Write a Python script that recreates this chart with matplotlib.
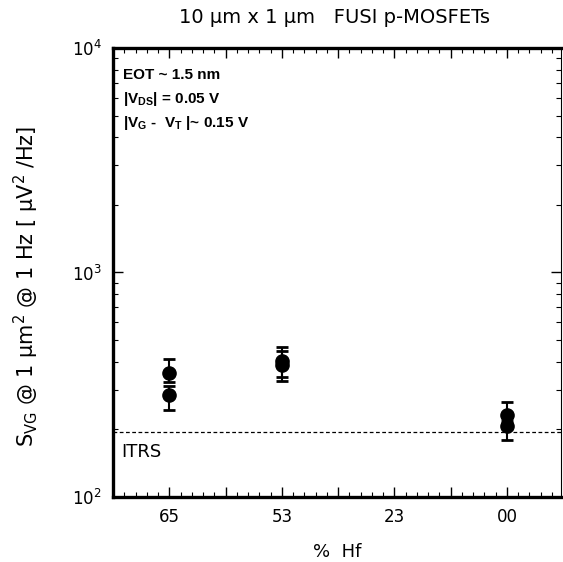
import matplotlib.pyplot as plt
from matplotlib.ticker import FixedLocator, FixedFormatter, MultipleLocator, LogLocator, NullFormatter

plt.rcParams["font.family"] = ["DejaVu Sans"]
plt.rcParams["mathtext.fontset"] = "custom"
plt.rcParams["mathtext.rm"] = "DejaVu Sans"
plt.rcParams["mathtext.bf"] = "Liberation Sans:bold"

# % Hf categories, positioned at 1..4 (unlabelled majors at half steps)
hf_labels = ["65", "53", "23", "00"]
hf_pos = [1, 2, 3, 4]

# measured S_VG points (uV^2/Hz) with asymmetric error bars
pt_x = [1, 1, 2, 2, 4, 4]
pt_y = [355, 286, 405, 389, 231, 208]
err_lo = [30, 41, 61, 59, 20, 29]
err_hi = [55, 25, 63, 60, 33, 10]

itrs_level = 195

fig = plt.figure(figsize=(5.63, 5.62), dpi=100)
ax = fig.add_axes([0.2007, 0.1157, 0.7957, 0.7989])

ax.errorbar(pt_x, pt_y, yerr=[err_lo, err_hi], fmt="o", color="black",
            markersize=9.5, ecolor="black", elinewidth=1.5, capsize=4, capthick=2)
ax.axhline(itrs_level, color="black", linestyle=(0, (3, 2)), linewidth=0.9)
ax.text(0.57, 150, "ITRS", fontsize=13)

ax.set_yscale("log")
ax.set_ylim(100, 10000)
ax.set_xlim(0.5, 4.48)

major_x = [0.5, 1, 1.5, 2, 2.5, 3, 3.5, 4]
major_lbl = ["", hf_labels[0], "", hf_labels[1], "", hf_labels[2], "", hf_labels[3]]
ax.xaxis.set_major_locator(FixedLocator(major_x))
ax.xaxis.set_major_formatter(FixedFormatter(major_lbl))
ax.xaxis.set_minor_locator(MultipleLocator(0.1))
ax.yaxis.set_minor_locator(LogLocator(base=10, subs=range(2, 10)))
ax.yaxis.set_minor_formatter(NullFormatter())

ax.tick_params(which="both", direction="in", top=True, right=True, labelsize=12)
ax.tick_params(which="major", length=7, width=1)
ax.tick_params(which="minor", length=3.5, width=0.8)
ax.tick_params(axis="x", pad=8)
ax.tick_params(axis="y", pad=8)

for side in ("left", "top", "bottom"):
    ax.spines[side].set_linewidth(2.4)
ax.spines["right"].set_linewidth(0.8)

ax.set_xlabel("%  Hf", fontsize=13, labelpad=12)
ax.set_ylabel(r"S$_{\rm VG}$ @ 1 µm$^{2}$ @ 1 Hz [ µV$^{2}$ /Hz]", fontsize=15)
ax.yaxis.set_label_coords(-0.16, 0.468)
fig.text(0.594, 0.968, "10 µm x 1 µm   FUSI p-MOSFETs", fontsize=14, ha="center", va="center")

bold = dict(transform=ax.transAxes, fontsize=11, fontweight="bold", family="Liberation Sans")
ax.text(0.022, 0.932, "EOT ~ 1.5 nm", **bold)
ax.text(0.022, 0.878, r"|V$_{\mathbf{DS}}$| = 0.05 V", **bold)
ax.text(0.022, 0.823, r"|V$_{\mathbf{G}}$ -  V$_{\mathbf{T}}$ |~ 0.15 V", **bold)

fig.savefig("out.png", dpi=100)
